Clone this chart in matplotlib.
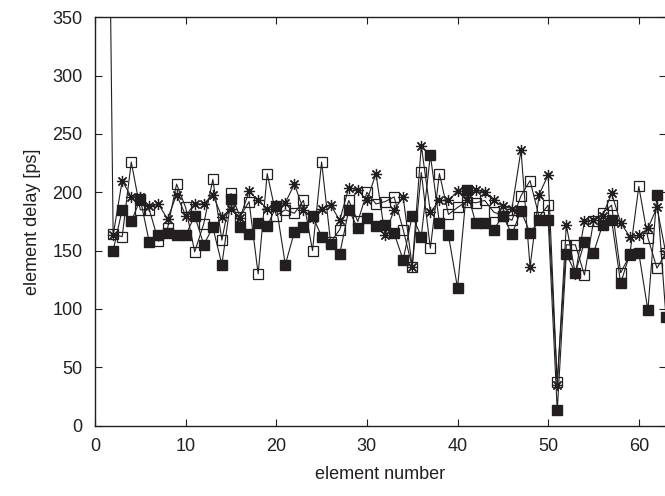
import numpy as np
import matplotlib
matplotlib.use("Agg")
import matplotlib.pyplot as plt

plt.rcParams['font.family'] = ['Liberation Sans', 'DejaVu Sans']

elements = list(range(1, 64))

filled = [np.nan,
          150, 185, 175, 194, 157, 163, 165, 163, 163, 180,
          155, 170, 138, 194, 170, 164, 174, 171, 188, 138,
          166, 170, 180, 162, 156, 147, 185, 169, 178, 171,
          172, 165, 142, 180, 162, 232, 174, 163, 118, 202,
          174, 174, 168, 180, 164, 184, 165, 176, 176, 13,
          147, 131, 157, 148, 172, 176, 122, 147, 148, 99,
          198, 93]

open_sq = [850,
           164, 162, 226, 185, 185, 158, 169, 207, 187, 149,
           173, 211, 159, 199, 179, 192, 130, 216, 180, 185,
           182, 193, 150, 226, 157, 168, 193, 175, 200, 190,
           192, 196, 168, 136, 217, 152, 216, 181, 187, 192,
           191, 193, 183, 180, 176, 197, 210, 179, 189, 37,
           155, 155, 129, 175, 182, 189, 131, 146, 205, 161,
           135, 148]

star = [np.nan,
        163, 210, 196, 196, 188, 190, 177, 198, 180, 190,
        190, 198, 179, 186, 178, 201, 193, 186, 189, 191,
        207, 185, 178, 186, 189, 176, 204, 202, 193, 216,
        163, 185, 196, 136, 240, 183, 193, 193, 201, 193,
        202, 200, 193, 188, 186, 236, 136, 198, 215, 35,
        172, 130, 175, 176, 180, 199, 174, 162, 163, 169,
        187, 147]

xticks = [0, 10, 20, 30, 40, 50, 60]
yticks = [0, 50, 100, 150, 200, 250, 300, 350]

ink = '#231f20'

fig = plt.figure(figsize=(6.65, 4.96), dpi=100)
ax = fig.add_axes([95/665, 70.4/496, 571/665, 408.3/496])

ax.plot(elements, filled, color=ink, lw=0.8, marker='s', ms=6.5,
        mfc=ink, mec=ink, zorder=3)
ax.plot(elements, open_sq, color=ink, lw=0.8, marker='s', ms=6.5,
        mfc='none', mec=ink, mew=0.9, zorder=4)
ax.plot(elements, star, color=ink, lw=0.8, marker=(8, 2, 0), ms=8,
        mec=ink, mew=0.9, zorder=5)

ax.set_xlim(0, 63)
ax.set_ylim(0, 350)
ax.set_xticks(xticks)
ax.set_yticks(yticks)
ax.tick_params(direction='in', length=5, width=0.8, top=True, right=True,
               labelsize=13, colors=ink, pad=9)
for s in ax.spines.values():
    s.set_linewidth(1.0)
    s.set_color(ink)

ax.set_xlabel('element number', fontsize=13, color=ink, labelpad=8)
ax.set_ylabel('element delay [ps]', fontsize=13, color=ink, labelpad=8)

fig.savefig('out.png', dpi=100)
